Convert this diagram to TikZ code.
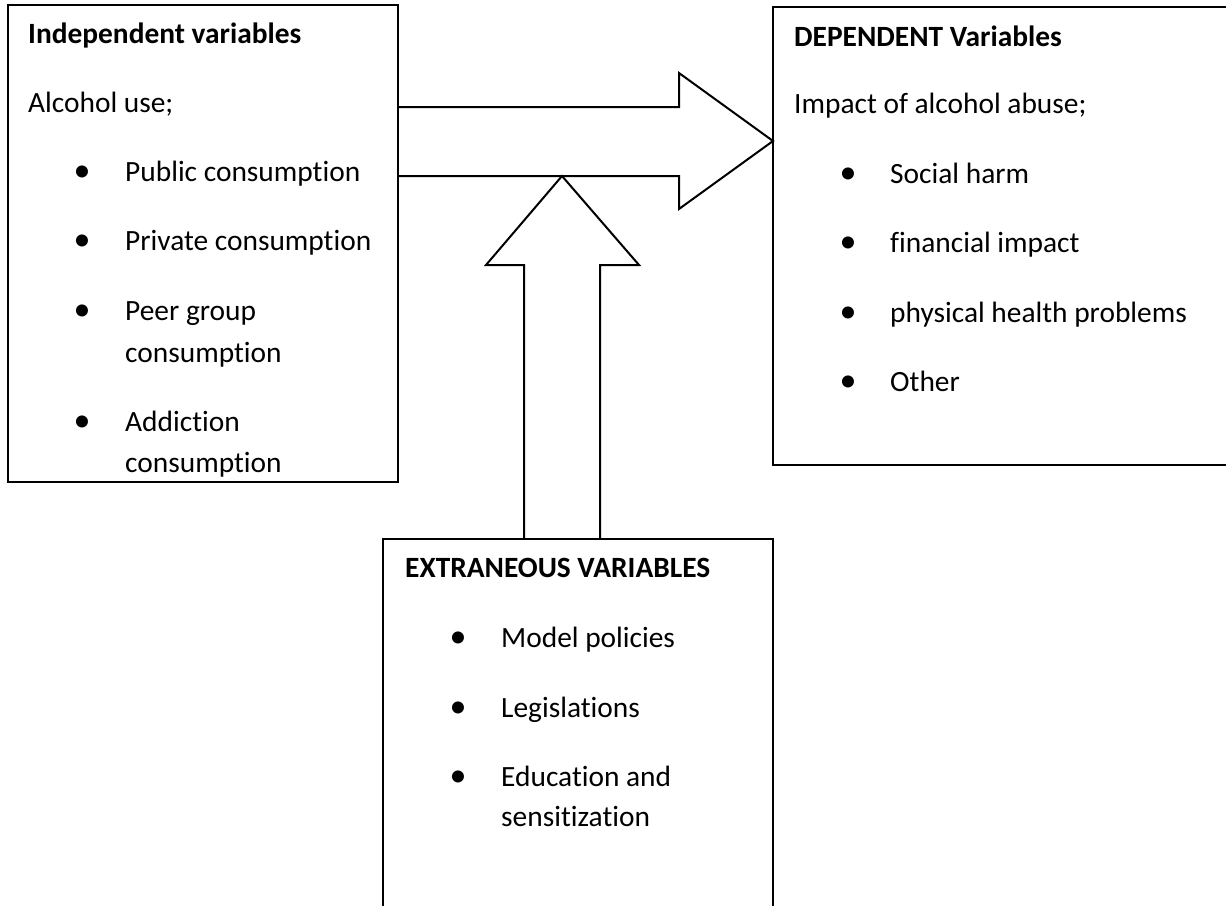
\documentclass[tikz,border=0pt]{standalone}
\usepackage{fontspec}
\setmainfont{Carlito}[Ligatures=NoCommon]
\usetikzlibrary{positioning, calc}

\begin{document}
\begin{tikzpicture}[
    x=1pt, y=-1pt,
    every node/.style={font=\fontsize{29.4}{35}\selectfont, inner sep=0pt, anchor=base west},
    frame/.style={draw=black, line width=2pt, anchor=north west, inner sep=0pt, outer sep=0pt},
    heading/.style={font=\fontsize{29.4}{35}\selectfont\bfseries},
    dot/.style={anchor=base, font=\fontsize{34}{35}\selectfont},
    blockarrow/.style={draw=black, line width=2pt, line join=miter},
]
\clip (0,0) rectangle (1226,905);
% boxes
\node[frame, minimum width=390pt, minimum height=477pt] (indep) at (8,5) {};
\node[frame, minimum width=460pt, minimum height=458pt] (dep) at (773,7) {};
\node[frame, minimum width=390pt, minimum height=420pt] (extra) at (383,539) {};
% independent variables
\begin{scope}
\clip ($(indep.north west)+(2,2)$) rectangle ($(indep.south east)+(-2,-5)$);
\node[heading] (indep_title) at (28,43) {Independent variables};
\node (indep_lead) at (28,112) {Alcohol use;};
\node[dot] (indep_d1) at (82,181) {\textbullet};
\node (indep_i1) at (125,181) {Public consumption};
\node[dot] (indep_d2) at (82,250) {\textbullet};
\node (indep_i2) at (125,250) {Private consumption};
\node[dot] (indep_d3) at (82,320) {\textbullet};
\node (indep_i3) at (125,320) {Peer group};
\node (indep_i3b) at (125,362) {consumption};
\node[dot] (indep_d4) at (82,431) {\textbullet};
\node (indep_i4) at (125,431) {Addiction};
\node (indep_i4b) at (125,472) {consumption};
\end{scope}
% dependent variables
\node[heading] (dep_title) at (794,46) {DEPENDENT Variables};
\node (dep_lead) at (794,113) {Impact of alcohol abuse;};
\node[dot] (dep_d1) at (848,183) {\textbullet};
\node (dep_i1) at (890,183) {Social harm};
\node[dot] (dep_d2) at (848,252) {\textbullet};
\node (dep_i2) at (890,252) {financial impact};
\node[dot] (dep_d3) at (848,322) {\textbullet};
\node (dep_i3) at (890,322) {physical health problems};
\node[dot] (dep_d4) at (848,391) {\textbullet};
\node (dep_i4) at (890,391) {Other};
% extraneous variables
\node[heading] (extra_title) at (405,577) {EXTRANEOUS VARIABLES};
\node[dot] (extra_d1) at (458,647) {\textbullet};
\node (extra_i1) at (501,647) {Model policies};
\node[dot] (extra_d2) at (458,717) {\textbullet};
\node (extra_i2) at (501,717) {Legislations};
\node[dot] (extra_d3) at (458,786) {\textbullet};
\node (extra_i3) at (501,786) {Education and};
\node (extra_i3b) at (501,826) {sensitization};
% block arrows
\coordinate (h_tip) at ($(dep.north west)+(0,134)$);
\coordinate (v_tip) at ($(indep.north east)+(164,171)$);
\draw[blockarrow] ($(indep.north east)+(0,102)$) -- ++(281,0) -- ++(0,-34)
    -- (h_tip) -- ++(-94,68) -- ++(0,-33) -- ($(indep.north east)+(0,171)$);
\draw[blockarrow] ($(extra.north west)+(141,0)$) -- ++(0,-274) -- ++(-38,0)
    -- (v_tip) -- ++(77,89) -- ++(-39,0) -- ($(extra.north west)+(217,0)$);
\end{tikzpicture}
\end{document}
